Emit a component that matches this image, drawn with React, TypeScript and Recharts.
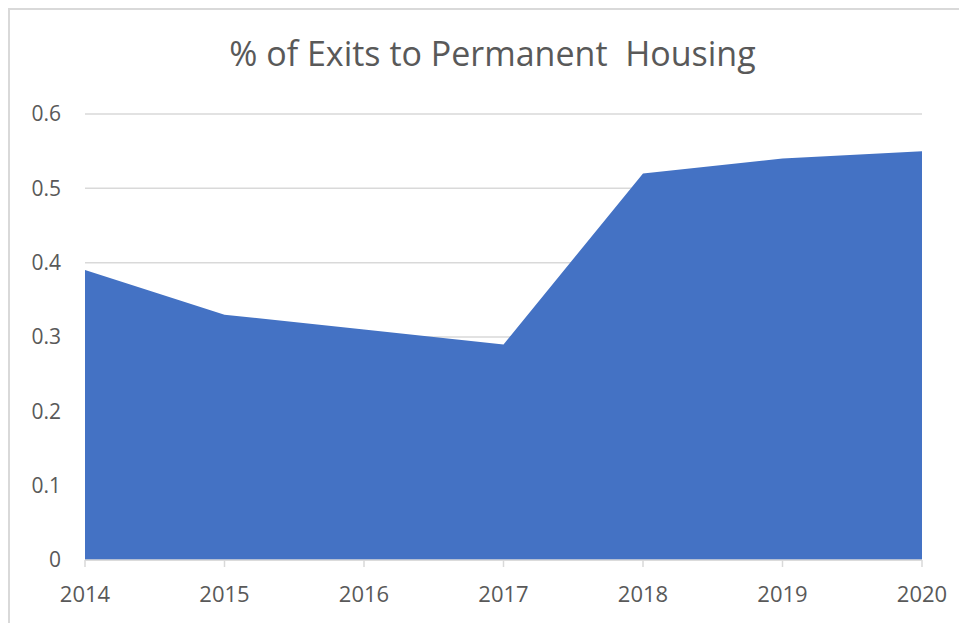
import { AreaChart, Area, XAxis, YAxis, CartesianGrid } from 'recharts';

const years = ['2014', '2015', '2016', '2017', '2018', '2019', '2020'];
const exitRates = [0.39, 0.33, 0.31, 0.29, 0.52, 0.54, 0.55];
const yTicks = [0, 0.1, 0.2, 0.3, 0.4, 0.5, 0.6];

const data = years.map((year, i) => ({ year, value: exitRates[i] }));

const FONT = '"Open Sans", "Noto Sans", sans-serif';
const TEXT = '#595959';
const LINE = '#d9d9d9';

export default function App() {
  return (
    <div
      style={{
        position: 'relative',
        width: 957,
        height: 613,
        borderLeft: `2px solid ${LINE}`,
        borderTop: `2px solid ${LINE}`,
        background: 'white',
        fontFamily: FONT,
      }}
    >
      <div
        style={{
          position: 'absolute',
          left: 4,
          top: 26,
          width: 957,
          textAlign: 'center',
          fontSize: 34,
          lineHeight: 1,
          color: TEXT,
          whiteSpace: 'pre',
        }}
      >
        % of Exits to Permanent  Housing
      </div>
      <AreaChart width={957} height={613} data={data} margin={{ top: 104, right: 45, bottom: 23, left: 15 }}>
        <CartesianGrid vertical={false} stroke={LINE} strokeWidth={1.5} />
        <XAxis
          dataKey="year"
          height={40}
          tick={{ fontSize: 22, fill: TEXT, fontFamily: FONT }}
          axisLine={{ stroke: LINE, strokeWidth: 1.5 }}
          tickLine={{ stroke: LINE, strokeWidth: 1.5 }}
          tickSize={7}
          tickMargin={19}
        />
        <YAxis
          domain={[0, 0.6]}
          ticks={yTicks}
          width={60}
          axisLine={false}
          tickLine={false}
          tickSize={0}
          tickMargin={24}
          tick={{ fontSize: 21, fill: TEXT, fontFamily: FONT }}
          tickFormatter={(v: number) => (v === 0 ? '0' : v.toFixed(1))}
        />
        <Area
          type="linear"
          dataKey="value"
          stroke="none"
          fill="#4472C4"
          fillOpacity={1}
          isAnimationActive={false}
        />
      </AreaChart>
    </div>
  );
}
